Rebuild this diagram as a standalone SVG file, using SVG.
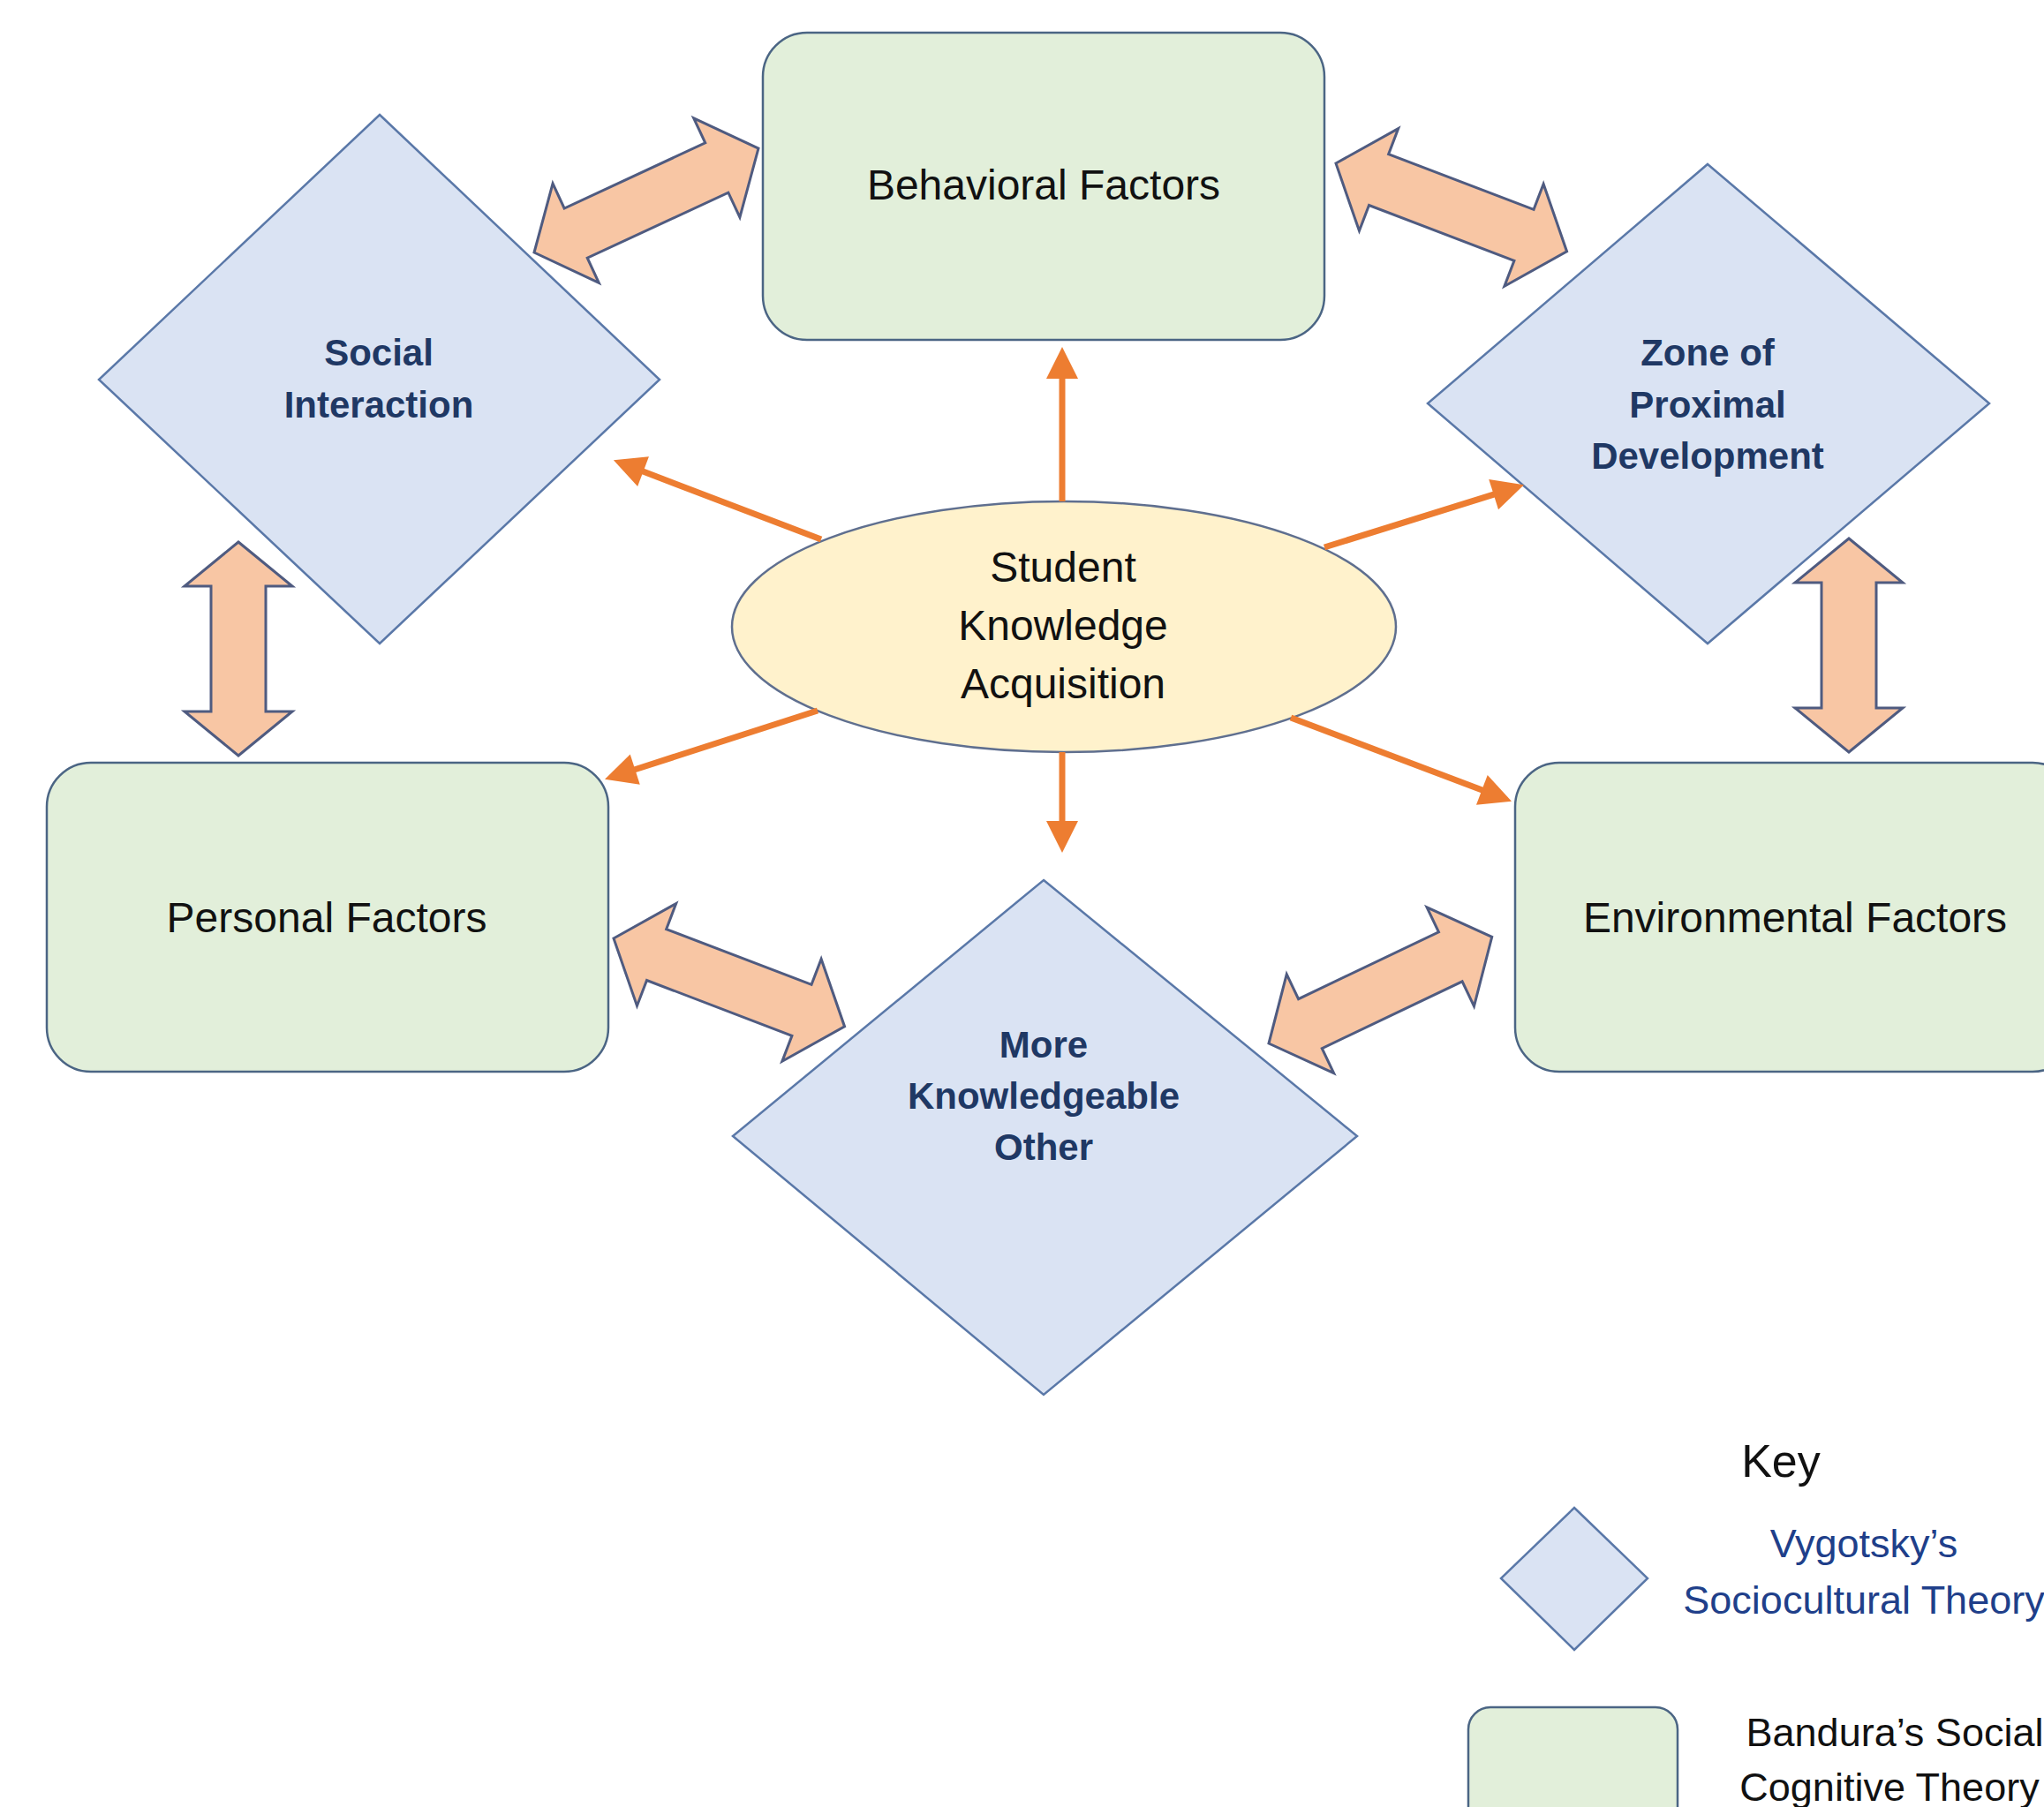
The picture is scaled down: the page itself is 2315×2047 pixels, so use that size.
<svg xmlns="http://www.w3.org/2000/svg" xmlns:xlink="http://www.w3.org/1999/xlink" width="2315" height="2047" viewBox="0 0 2315 2047">
<style>
.box{fill:#E2EFDA;stroke:#4B6584;stroke-width:2.5}
.dia{fill:#DAE3F3;stroke:#5A78A8;stroke-width:2.5}
.ell{fill:#FFF2CC;stroke:#5F6F8F;stroke-width:2.5}
.btxt{font-family:"Liberation Sans",Arial,sans-serif;font-size:48px;fill:#111111;text-anchor:middle}
.dtxt{font-family:"Liberation Sans",Arial,sans-serif;font-size:42px;font-weight:bold;fill:#1F3864;text-anchor:middle}
.ktxt{font-family:"Liberation Sans",Arial,sans-serif;font-size:45px;text-anchor:middle}
.dbl{fill:#F8C6A4;stroke:#4F5B80;stroke-width:3;stroke-linejoin:miter}
.ora{stroke:#ED7D31;stroke-width:7;fill:none;marker-end:url(#ah)}
</style>
<defs>
<marker id="ah" markerUnits="userSpaceOnUse" markerWidth="40" markerHeight="40" refX="1" refY="18" orient="auto" overflow="visible">
<path d="M0,0 L36,18 L0,36 Z" fill="#ED7D31"/>
</marker>
<polygon id="dbl280" class="dbl" points="0,0 52,-62 52,-31 228,-31 228,-62 280,0 228,62 228,31 52,31 52,62"/>
<polygon id="dbl242" class="dbl" points="0,0 50,-61 50,-31 192,-31 192,-61 242,0 192,61 192,31 50,31 50,61"/>
</defs>
<rect width="2315" height="2047" fill="#FFFFFF"/>

<g id="behavioral-factors">
<rect class="box" x="864" y="37" width="636" height="348" rx="50"/>
<text class="btxt" x="1182" y="226">Behavioral Factors</text>
</g>
<g id="personal-factors">
<rect class="box" x="53" y="864" width="636" height="350" rx="50"/>
<text class="btxt" x="370" y="1056">Personal Factors</text>
</g>
<g id="environmental-factors">
<rect class="box" x="1716" y="864" width="636" height="350" rx="50"/>
<text class="btxt" x="2033" y="1056">Environmental Factors</text>
</g>
<g id="social-interaction">
<polygon class="dia" points="430,130 747,430 430,729 112,430"/>
<text class="dtxt" x="429" y="414">Social</text>
<text class="dtxt" x="429" y="473">Interaction</text>
</g>
<g id="zone-of-proximal-development">
<polygon class="dia" points="1934,186 2253,457 1934,729 1617,457"/>
<text class="dtxt" x="1934" y="414">Zone of</text>
<text class="dtxt" x="1934" y="473">Proximal</text>
<text class="dtxt" x="1934" y="531">Development</text>
</g>
<g id="more-knowledgeable-other">
<polygon class="dia" points="1182,997 1537,1287 1182,1580 830,1287"/>
<text class="dtxt" x="1182" y="1198">More</text>
<text class="dtxt" x="1182" y="1256">Knowledgeable</text>
<text class="dtxt" x="1182" y="1314">Other</text>
</g>
<g id="student-knowledge-acquisition">
<ellipse class="ell" cx="1205" cy="710" rx="376" ry="142"/>
<text class="btxt" x="1204" y="659">Student</text>
<text class="btxt" x="1204" y="725">Knowledge</text>
<text class="btxt" x="1204" y="791">Acquisition</text>
</g>

<g id="connectors">
<line class="ora" x1="1203" y1="568" x2="1203" y2="428"/>
<line class="ora" x1="930" y1="611" x2="727.6" y2="533.8"/>
<line class="ora" x1="1500" y1="620" x2="1692.6" y2="559.8"/>
<line class="ora" x1="926" y1="805" x2="718.3" y2="872"/>
<line class="ora" x1="1203" y1="852" x2="1203" y2="931"/>
<line class="ora" x1="1462" y1="813" x2="1679.3" y2="895.3"/>
<use xlink:href="#dbl280" transform="translate(605,286) rotate(-24.9)"/>
<use xlink:href="#dbl280" transform="translate(1513,185) rotate(20.9)"/>
<use xlink:href="#dbl242" transform="translate(270,614) rotate(90)"/>
<use xlink:href="#dbl242" transform="translate(2094,610) rotate(90)"/>
<use xlink:href="#dbl280" transform="translate(695,1063) rotate(20.9)"/>
<use xlink:href="#dbl280" transform="translate(1437,1182) rotate(-25.5)"/>
</g>

<g id="key">
<text x="2017" y="1673" font-family="Liberation Sans, Arial, sans-serif" font-size="52" fill="#111111" text-anchor="middle">Key</text>
<g id="key-vygotsky">
<polygon class="dia" points="1783,1708 1866,1788 1783,1869 1700,1788"/>
<text class="ktxt" x="2111" y="1764" fill="#203F8A">Vygotsky’s</text>
<text class="ktxt" x="2111" y="1828" fill="#203F8A">Sociocultural Theory</text>
</g>
<g id="key-bandura">
<rect class="box" x="1663" y="1934" width="237" height="160" rx="25"/>
<text class="ktxt" x="2146" y="1978" fill="#111111">Bandura’s Social</text>
<text class="ktxt" x="2140" y="2040" fill="#111111">Cognitive Theory</text>
</g>
</g>
</svg>
